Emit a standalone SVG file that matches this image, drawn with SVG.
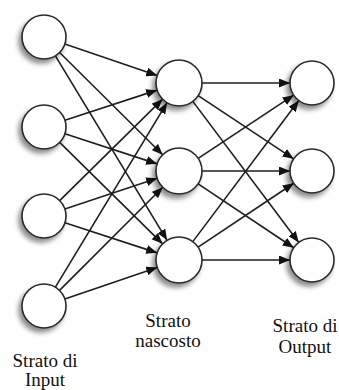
<svg xmlns="http://www.w3.org/2000/svg" width="339" height="390" viewBox="0 0 339 390">
<style>
.edge{stroke:#1e1e1e;stroke-width:1.6;fill:none;marker-end:url(#arr)}
.node circle{fill:#fff;stroke:#2a2a2a;stroke-width:1.6;filter:url(#sh)}
.lbl{font-family:"Liberation Serif","Times New Roman",serif;font-size:19px;fill:#111;text-anchor:middle}
</style>
<defs>
<marker id="arr" markerUnits="userSpaceOnUse" markerWidth="11" markerHeight="9" refX="11" refY="4.5" orient="auto">
<path d="M0,0 L11,4.5 L0,9 z" fill="#111"/>
</marker>
<filter id="sh" x="-40%" y="-40%" width="180%" height="180%">
<feGaussianBlur in="SourceAlpha" stdDeviation="2.5"/>
<feOffset dx="-3" dy="4" result="b"/>
<feFlood flood-color="#000" flood-opacity="0.45"/>
<feComposite in2="b" operator="in"/>
<feMerge><feMergeNode/><feMergeNode in="SourceGraphic"/></feMerge>
</filter>
</defs>
<rect width="339" height="390" fill="#fff"/>
<g id="connectors">
<line class="edge" x1="64.83" y1="44.10" x2="157.23" y2="75.58"/>
<line class="edge" x1="59.61" y1="52.50" x2="162.68" y2="154.80"/>
<line class="edge" x1="55.39" y1="55.82" x2="167.09" y2="240.32"/>
<line class="edge" x1="64.92" y1="120.18" x2="157.13" y2="90.13"/>
<line class="edge" x1="64.92" y1="133.82" x2="157.13" y2="163.87"/>
<line class="edge" x1="59.67" y1="142.44" x2="162.61" y2="243.86"/>
<line class="edge" x1="59.67" y1="200.56" x2="162.61" y2="99.14"/>
<line class="edge" x1="64.87" y1="209.04" x2="157.18" y2="178.27"/>
<line class="edge" x1="64.92" y1="222.82" x2="157.13" y2="252.87"/>
<line class="edge" x1="55.39" y1="287.18" x2="167.09" y2="102.68"/>
<line class="edge" x1="59.56" y1="290.44" x2="162.74" y2="187.26"/>
<line class="edge" x1="64.83" y1="298.90" x2="157.23" y2="267.42"/>
<line class="edge" x1="202" y1="83" x2="290" y2="83"/>
<line class="edge" x1="198.18" y1="95.69" x2="293.65" y2="158.86"/>
<line class="edge" x1="192.82" y1="101.39" x2="298.78" y2="242.41"/>
<line class="edge" x1="198.18" y1="158.31" x2="293.65" y2="95.14"/>
<line class="edge" x1="202" y1="171" x2="290" y2="171"/>
<line class="edge" x1="198.12" y1="183.79" x2="293.72" y2="247.77"/>
<line class="edge" x1="192.82" y1="241.61" x2="298.78" y2="100.59"/>
<line class="edge" x1="198.12" y1="247.21" x2="293.72" y2="183.23"/>
<line class="edge" x1="202" y1="260" x2="290" y2="260"/>
</g>
<g id="in1" class="node"><circle cx="44" cy="37" r="22"/></g>
<g id="in2" class="node"><circle cx="44" cy="127" r="22"/></g>
<g id="in3" class="node"><circle cx="44" cy="216" r="22"/></g>
<g id="in4" class="node"><circle cx="44" cy="306" r="22"/></g>
<g id="h1" class="node"><circle cx="179" cy="83" r="23"/></g>
<g id="h2" class="node"><circle cx="179" cy="171" r="23"/></g>
<g id="h3" class="node"><circle cx="179" cy="260" r="23"/></g>
<g id="o1" class="node"><circle cx="312" cy="83" r="22"/></g>
<g id="o2" class="node"><circle cx="312" cy="171" r="22"/></g>
<g id="o3" class="node"><circle cx="312" cy="260" r="22"/></g>
<g id="label-input"><text class="lbl" x="45" y="367">Strato di</text><text class="lbl" x="45" y="386">Input</text></g>
<g id="label-hidden"><text class="lbl" x="168" y="327">Strato</text><text class="lbl" x="168" y="347">nascosto</text></g>
<g id="label-output"><text class="lbl" x="305" y="332">Strato di</text><text class="lbl" x="305" y="353">Output</text></g>
</svg>
